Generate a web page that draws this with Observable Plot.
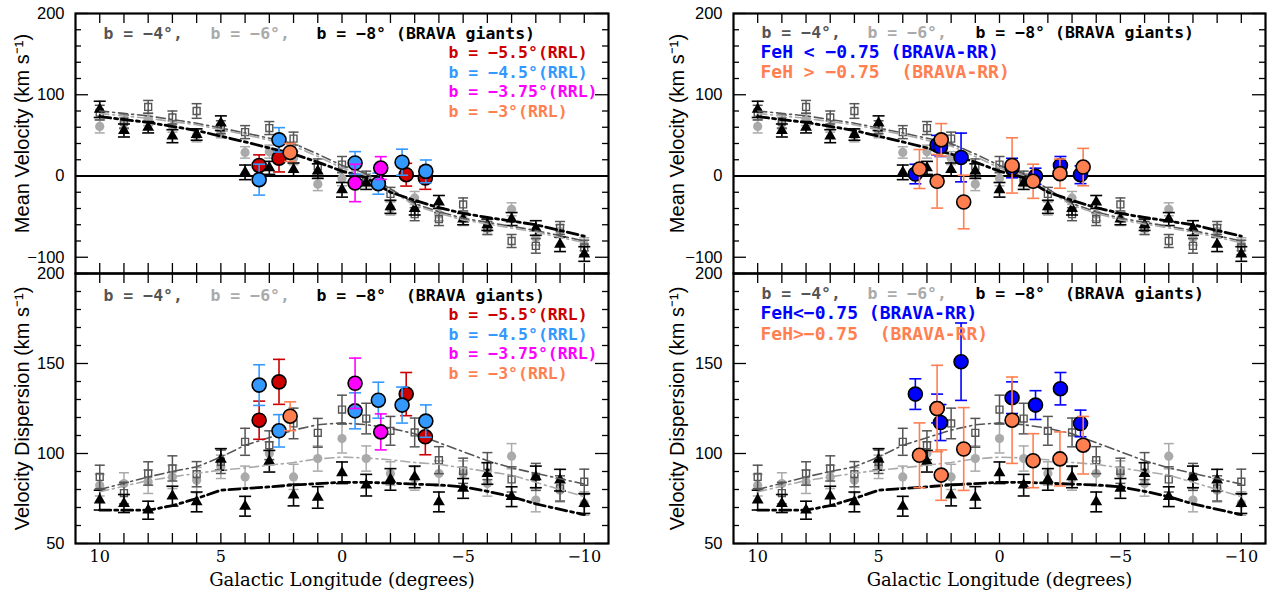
<!DOCTYPE html>
<html><head><meta charset="utf-8">
<script src="https://cdn.jsdelivr.net/npm/d3@7"></script>
<script src="https://cdn.jsdelivr.net/npm/@observablehq/plot@0.6"></script>
<style>
body{margin:0;background:#fff;}
#fig{position:relative;width:1272px;height:600px;overflow:hidden;background:#fff;}
</style></head><body><div id="fig"></div>
<script>
// ---------------- DATA ----------------
const lon = [10,9,8,7,6,5,4,3,2,1,0,-1,-2,-3,-4,-5,-6,-7,-8,-9,-10];
const xTickLabels = [10,5,0,-5,-10];
const xTickMarks = [10,9,8,7,6,5,4,3,2,1,0,-1,-2,-3,-4,-5,-6,-7,-8,-9,-10];
const meanTickLabels = [200,100,0,-100];
const meanMajorTicks = [200,100,0,-100];
const meanMinorTicks = [180,160,140,120,80,60,40,20,-20,-40,-60,-80,-120];
const dispTickLabels = [200,150,100,50];
const dispMajorTicks = [200,150,100,50];
const dispMinorTicks = [190,180,170,160,140,130,120,110,90,80,70,60];

// BRAVA giants, mean velocity
const meanB4 = [78,67,85,72,80,60,54,59,46,12,14,-3,-22,-47,-53,-35,-64,-80,-86,-64,-88];
const meanB4Err = [9,8,8,8,9,8,8,8,8,9,10,9,8,8,8,8,8,8,9,8,9];
const meanB6 = [61,65,70,61,50,55,29,30,22,-10,-3,-5,-40,-27,-47,-53,-64,-41,-76,-68,-84];
const meanB6Err = [8,7,8,7,8,8,7,8,8,8,9,8,8,8,8,8,8,8,9,8,8];
const meanB8 = [82,56,60,49,51,65,4.5,10,8,6,-17,-8.5,-38,-40,-32,-53,-60,-53,-64,-84,-96];
const meanB8Err = [10,8,7,8,7,9,9,8,8,9,9,8,8,8,8,7,7,8,9,9,9];
// BRAVA giants, velocity dispersion
const dispB4 = [87,78,88.9,91.7,88.5,95.4,106.5,104.6,116.7,111.5,124.4,119.4,112.6,111.7,96.3,90.4,93,85.6,87,80.6,84.3];
const dispB4Err = [6.5,6,6.5,7,7,6.5,7.5,8,8.5,8,8,8.5,8,8,7.5,7,7.5,7,7.5,7,7];
const dispB6 = [82.4,83.3,84.3,87,85.2,92.6,87,100,87,97.2,108.3,97.2,88.9,86.1,88.9,88.9,83.3,98.5,74.1,79.6,72.2];
const dispB6Err = [6,6,6.5,6.5,7,6.5,6,6.5,7,7,8,7,6.5,6.5,7,7,7,7,6.5,6.5,6.5];
const dispB8 = [74.1,72.2,68.5,76.3,73.1,96.7,70.7,95.7,76.9,75.6,89.3,82.4,85.6,87,73.1,80.6,88.9,76,87,85.2,72.2];
const dispB8Err = [5.5,5,5,5.5,5.5,6,5.5,6,6,6,6,6,6,6,5.5,5.5,6,5.5,6,6,5.5];

// model curves
const modelMeanLon = [10,8,6,4,2,1,0,-1,-2,-3,-4,-5,-6,-8,-10];
const modelMeanB4 = [80,74,65,53,40,27,13,3,-16,-34,-44,-52,-57,-67,-80];
const modelMeanB6 = [77,71,63,51,37,24,10,0,-18,-36,-46,-54,-59,-69,-82];
const modelMeanB8 = [73,66,56,42,27,17,6,-2,-20,-30,-39,-46,-51,-60,-74];
const modelDispLon = [10,8,7,6,5,4,2,1,0,-1,-2,-3,-4,-5,-6,-7,-8,-10];
const modelDispB4 = [80,87,90,92.6,98,104.6,113,116,117,116,114,111,106,101,96,92,89,83];
const modelDispB6 = [78.7,85,87,89,90.7,92,95,97,98,97.5,96.5,95,94,92,90,88,84,76];
const modelDispB8 = [68.5,68.5,71,75,79.6,80.5,82.5,83.3,84,84,83.5,83,82.5,81.5,79,76,72,66];

// RR Lyrae by latitude (left panels)
const rr55Lon = [3.42,2.6,-2.65,-3.44];
const rr55Mean = [13,22,1.6,-2.4];
const rr55MeanErr = [13,17,14,14];
const rr55Disp = [118.5,139.8,133,109.3];
const rr55DispErr = [10.6,12.5,12,10];
const rr45Lon = [3.42,2.6,-0.54,-1.5,-2.48,-3.46];
const rr45Mean = [-4.5,44.5,16,-9.4,17,5.7];
const rr45MeanErr = [19,15,14,13,16,14];
const rr45Disp = [138,112.6,123.7,129.6,126.9,118];
const rr45DispErr = [11.3,9,10,10,10,9];
const rr375Lon = [-0.54,-1.6];
const rr375Mean = [-8.6,9.8];
const rr375MeanErr = [23,14];
const rr375Disp = [139,112];
const rr375DispErr = [14,10];
const rr3Lon = [2.14];
const rr3Mean = [29];
const rr3MeanErr = [11];
const rr3Disp = [120.7];
const rr3DispErr = [8];

// BRAVA-RR by metallicity (right panels)
const poorLon = [3.48,2.58,2.44,1.59,-0.52,-1.49,-2.52,-3.35];
const poorMean = [2.4,38,36,22.8,9.8,-0.4,13,1.6];
const poorMeanErr = [12,12,12,30,12,10,11,11];
const poorDisp = [133,125,117.2,151,131,126.9,136,116.7];
const poorDispErr = [8.5,8,10,21.5,8.8,8,9,7.4];
const richLon = [3.31,2.58,2.41,1.48,-0.52,-1.39,-2.5,-3.46];
const richMean = [8.6,-6.5,44.5,-32,13,-6.5,2.9,11];
const richMeanErr = [24,33,20,33,34,21,18,23];
const richDisp = [99,125,88,102.5,118.5,96,97,104.6];
const richDispErr = [18,24,14,23,24,15,15,16];

// ---------------- STYLE ----------------
const C4 = "#555555", C6 = "#aaaaaa", C8 = "#000000";
const RED = "#cc0000", LBLUE = "#3399ff", MAG = "#ff00ff", CORAL = "#ff7f50", BLUE = "#0000ff";
const SANS = "'Liberation Sans', Arial, sans-serif";
const SERIF = "'DejaVu Serif', serif";
const MONO = "'DejaVu Sans Mono', monospace";
const minus = d => d < 0 ? "\u2212" + Math.abs(d) : String(d);
const nb = s => s.replace(/ /g, "\u00A0");
const cap = {draw(ctx, size){ const r = Math.sqrt(size/Math.PI); ctx.moveTo(-r,0); ctx.lineTo(r,0); }};

function rows(ls, vs, es){ return ls.map((l,i)=>({l, v: vs[i], e: es ? es[i] : 0})); }

function errMarks(data, color, w, r){
  return [
    Plot.ruleX(data, {x:"l", y1: d=>d.v-d.e, y2: d=>d.v+d.e, stroke: color, strokeWidth: w}),
    Plot.dot(data, {x:"l", y: d=>d.v+d.e, symbol: cap, r, stroke: color, strokeWidth: w, fill: "none"}),
    Plot.dot(data, {x:"l", y: d=>d.v-d.e, symbol: cap, r, stroke: color, strokeWidth: w, fill: "none"})
  ];
}
function model(ls, vs, color, w, dash){
  return Plot.line(rows(ls, vs), {x:"l", y:"v", stroke: color, strokeWidth: w, strokeDasharray: dash});
}
function bravaMarks(l, b4, b4e, b6, b6e, b8, b8e){
  const d4 = rows(l, b4, b4e), d6 = rows(l, b6, b6e), d8 = rows(l, b8, b8e);
  return [
    ...errMarks(d6, C6, 1.5, 5),
    Plot.dot(d6, {x:"l", y:"v", r: 4.6, fill: C6, stroke: "none"}),
    ...errMarks(d4, C4, 1.5, 5),
    Plot.dot(d4, {x:"l", y:"v", symbol: "square", r: 3.9, fill: "none", stroke: C4, strokeWidth: 1.4}),
    ...errMarks(d8, C8, 1.6, 6),
    Plot.dot(d8, {x:"l", y:"v", symbol: "triangle", r: 4.4, fill: C8, stroke: "none"})
  ];
}
function rrMarks(ls, vs, es, color){
  const d = rows(ls, vs, es);
  return [...errMarks(d, color, 1.6, 6),
    Plot.dot(d, {x:"l", y:"v", r: 7, fill: color, stroke: "black", strokeWidth: 1.6})];
}
function txt(str, color, dx, dy, size){
  return Plot.text([nb(str)], {frameAnchor: "top-left", text: d=>d, dx, dy, fill: color,
    fontFamily: MONO, fontSize: size, fontWeight: "bold", textAnchor: "start", lineAnchor: "middle"});
}
function frameTicks(innerW, innerH, major, minor){
  return [
    Plot.ruleX(xTickMarks, {x: d=>d, insetBottom: innerH - 10, stroke: "black", strokeWidth: 1.3}),
    Plot.ruleX(xTickMarks, {x: d=>d, insetTop: innerH - 10, stroke: "black", strokeWidth: 1.3}),
    Plot.ruleY(major, {y: d=>d, insetRight: innerW - 13, stroke: "black", strokeWidth: 1.3}),
    Plot.ruleY(major, {y: d=>d, insetLeft: innerW - 13, stroke: "black", strokeWidth: 1.3}),
    Plot.ruleY(minor, {y: d=>d, insetRight: innerW - 6, stroke: "black", strokeWidth: 1.3}),
    Plot.ruleY(minor, {y: d=>d, insetLeft: innerW - 6, stroke: "black", strokeWidth: 1.3})
  ];
}

const fig = document.getElementById("fig");
function place(svg, left, top){
  svg.style.position = "absolute";
  svg.style.left = left + "px";
  svg.style.top = top + "px";
  svg.style.overflow = "visible";
  d3.select(svg).selectAll('[aria-label^="y-axis"]').attr("font-family", SANS).attr("font-size", 16.5).style("font-family", SANS).style("font-size", "16.5px");
  fig.appendChild(svg);
}

const W = 636;
function panel({left, top, mL, mR, mean, marks, legend, yTitleDx, yTitleDy}){
  const H = mean ? 273 : 327;
  const mT = mean ? 13 : 0, mB = mean ? 0 : 57;
  const innerW = W - mL - mR, innerH = H - mT - mB;
  const svg = Plot.plot({
    width: W, height: H, marginLeft: mL, marginRight: mR, marginTop: mT, marginBottom: mB,
    style: {background: "transparent", overflow: "visible", fontFamily: SERIF, fontSize: "16px", color: "black"},
    x: {domain: [11, -11], ticks: xTickLabels, tickSize: 0, tickPadding: 7, tickFormat: minus, label: null, axis: mean ? null : "bottom"},
    y: {domain: mean ? [-120, 200] : [50, 200], ticks: mean ? meanTickLabels : dispTickLabels, tickSize: 0, tickPadding: 11, tickFormat: minus, label: null},
    marks: [
      ...(mean ? [Plot.ruleY([0], {stroke: "black", strokeWidth: 2})] : []),
      ...marks,
      ...legend,
      Plot.text([mean ? "Mean Velocity (km s\u207B\u00B9)" : "Velocity Dispersion (km s\u207B\u00B9)"],
        {frameAnchor: "left", text: d=>d, rotate: -90, dx: yTitleDx, dy: yTitleDy, fontFamily: SANS, fontSize: 20, fill: "black", textAnchor: "middle"}),
      ...(mean ? [] : [Plot.text(["Galactic Longitude (degrees)"], {frameAnchor: "bottom", text: d=>d, dy: 42, fontFamily: SERIF, fontSize: 18, fill: "black"})]),
      ...frameTicks(innerW, innerH, mean ? meanMajorTicks : dispMajorTicks, mean ? meanMinorTicks : dispMinorTicks),
      Plot.frame({stroke: "black", strokeWidth: 2.2})
    ]
  });
  place(svg, left, top);
}

const dash4 = "9,4,2,4", dash6 = "9,4,2,4", dash8 = "11,4,3,4";
const meanModels = [
  model(modelMeanLon, modelMeanB4, C4, 1.6, dash4),
  model(modelMeanLon, modelMeanB6, C6, 1.6, dash6),
  model(modelMeanLon, modelMeanB8, C8, 2.8, dash8)
];
const dispModels = [
  model(modelDispLon, modelDispB4, C4, 1.6, dash4),
  model(modelDispLon, modelDispB6, C6, 1.6, dash6),
  model(modelDispLon, modelDispB8, C8, 2.8, dash8)
];
const meanBrava = bravaMarks(lon, meanB4, meanB4Err, meanB6, meanB6Err, meanB8, meanB8Err);
const dispBrava = bravaMarks(lon, dispB4, dispB4Err, dispB6, dispB6Err, dispB8, dispB8Err);

// Top-left
panel({left: 0, top: 0, mL: 75, mR: 28, mean: true, yTitleDx: -53, yTitleDy: -10,
  marks: [...meanBrava, ...meanModels,
    ...rrMarks(rr55Lon, rr55Mean, rr55MeanErr, RED),
    ...rrMarks(rr45Lon, rr45Mean, rr45MeanErr, LBLUE),
    ...rrMarks(rr375Lon, rr375Mean, rr375MeanErr, MAG),
    ...rrMarks(rr3Lon, rr3Mean, rr3MeanErr, CORAL)],
  legend: [
    txt("b = \u22124\u00B0,", C4, 28, 20, 16.5), txt("b = \u22126\u00B0,", C6, 135, 20, 16.5), txt("b = \u22128\u00B0 (BRAVA giants)", C8, 241, 20, 16.5),
    txt("b = \u22125.5\u00B0(RRL)", RED, 373, 39, 16.5), txt("b = \u22124.5\u00B0(RRL)", LBLUE, 373, 59, 16.5),
    txt("b = \u22123.75\u00B0(RRL)", MAG, 373, 78.5, 16.5), txt("b = \u22123\u00B0(RRL)", CORAL, 373, 98, 16.5)
  ]});
// Bottom-left
panel({left: 0, top: 273, mL: 75, mR: 28, mean: false, yTitleDx: -53, yTitleDy: 0,
  marks: [...dispBrava, ...dispModels,
    ...rrMarks(rr55Lon, rr55Disp, rr55DispErr, RED),
    ...rrMarks(rr45Lon, rr45Disp, rr45DispErr, LBLUE),
    ...rrMarks(rr375Lon, rr375Disp, rr375DispErr, MAG),
    ...rrMarks(rr3Lon, rr3Disp, rr3DispErr, CORAL)],
  legend: [
    txt("b = \u22124\u00B0,", C4, 28, 22, 16.5), txt("b = \u22126\u00B0,", C6, 135, 22, 16.5), txt("b = \u22128\u00B0  (BRAVA giants)", C8, 241, 22, 16.5),
    txt("b = \u22125.5\u00B0(RRL)", RED, 373, 41, 16.5), txt("b = \u22124.5\u00B0(RRL)", LBLUE, 373, 61, 16.5),
    txt("b = \u22123.75\u00B0(RRL)", MAG, 373, 80.5, 16.5), txt("b = \u22123\u00B0(RRL)", CORAL, 373, 100, 16.5)
  ]});
// Top-right
panel({left: 636, top: 0, mL: 97, mR: 7, mean: true, yTitleDx: -56, yTitleDy: -10,
  marks: [...meanBrava, ...meanModels,
    ...rrMarks(poorLon, poorMean, poorMeanErr, BLUE),
    ...rrMarks(richLon, richMean, richMeanErr, CORAL)],
  legend: [
    txt("b = \u22124\u00B0,", C4, 28, 19, 16.5), txt("b = \u22126\u00B0,", C6, 134, 19, 16.5), txt("b = \u22128\u00B0 (BRAVA giants)", C8, 242, 19, 16.5),
    txt("FeH < \u22120.75 (BRAVA-RR)", BLUE, 27, 39, 18), txt("FeH > \u22120.75  (BRAVA-RR)", CORAL, 27, 59, 18)
  ]});
// Bottom-right
panel({left: 636, top: 273, mL: 97, mR: 7, mean: false, yTitleDx: -56, yTitleDy: 0,
  marks: [...dispBrava, ...dispModels,
    ...rrMarks(poorLon, poorDisp, poorDispErr, BLUE),
    ...rrMarks(richLon, richDisp, richDispErr, CORAL)],
  legend: [
    txt("b = \u22124\u00B0,", C4, 28, 20, 16.5), txt("b = \u22126\u00B0,", C6, 134, 20, 16.5), txt("b = \u22128\u00B0  (BRAVA giants)", C8, 242, 20, 16.5),
    txt("FeH<\u22120.75 (BRAVA-RR)", BLUE, 27, 40, 18), txt("FeH>\u22120.75  (BRAVA-RR)", CORAL, 27, 61, 18)
  ]});
</script></body></html>
